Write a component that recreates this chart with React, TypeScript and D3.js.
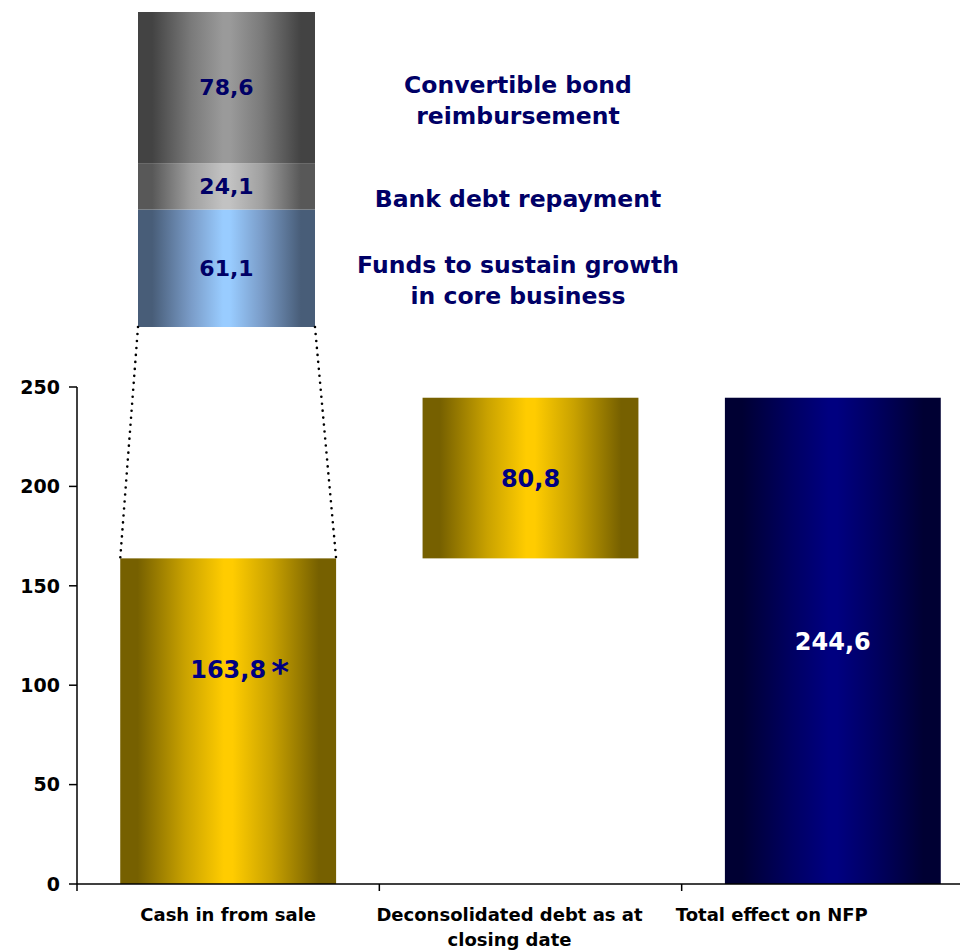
import React from "react";
import * as d3 from "d3";

// ---- data ----
const categories = ["Cash in from sale", "Deconsolidated debt as at closing date", "Total effect on NFP"];
const categoryLines = [["Cash in from sale"], ["Deconsolidated debt as at", "closing date"], ["Total effect on NFP"]];
const cashIn = 163.8;
const deconsolidatedDebt = 80.8;
const totalEffect = 244.6;
const yTicks = [0, 50, 100, 150, 200, 250];

// breakdown of cash in (bottom to top)
const useValues = [61.1, 24.1, 78.6];
const useLabels = [
  ["Funds to sustain growth", "in core business"],
  ["Bank debt repayment"],
  ["Convertible bond", "reimbursement"],
];

const fmt = (v: number) => v.toFixed(1).replace(".", ",");

const W = 960;
const H = 951;

export default function App() {
  const x = d3.scaleBand<string>().domain(categories).range([77, 984]).padding(0);
  const y = d3.scaleLinear().domain([0, 250]).range([884, 387]);
  const barW = x.bandwidth() * 0.714;

  const bars = [
    { cat: categories[0], y0: 0, y1: cashIn, value: cashIn, fill: "url(#gold)", color: "#000080" },
    { cat: categories[1], y0: cashIn, y1: cashIn + deconsolidatedDebt, value: deconsolidatedDebt, fill: "url(#gold)", color: "#000080" },
    { cat: categories[2], y0: 0, y1: totalEffect, value: totalEffect, fill: "url(#navy)", color: "#ffffff" },
  ];

  // stacked breakdown above first bar
  const stackTotal = d3.sum(useValues);
  const ys = d3.scaleLinear().domain([0, stackTotal]).range([327, 12]);
  const stackX0 = 138;
  const stackX1 = 315;
  const cum = d3.cumsum(useValues);
  const segs = useValues.map((v, i) => ({ v, s0: i === 0 ? 0 : cum[i - 1], s1: cum[i], label: useLabels[i] }));
  const segFills = ["url(#blue)", "url(#grey2)", "url(#grey1)"];

  const b1x0 = (x(categories[0]) as number) + (x.bandwidth() - barW) / 2;
  const b1x1 = b1x0 + barW;

  const labelShift = [0, -21, -61];
  const font = "'DejaVu Sans', Verdana, sans-serif";

  const grad = (id: string, edge: string, mid: string, center: string) => (
    <linearGradient id={id} x1="0" x2="1" y1="0" y2="0">
      <stop offset="0" stopColor={edge} />
      <stop offset="0.08" stopColor={edge} />
      <stop offset="0.3" stopColor={mid} />
      <stop offset="0.48" stopColor={center} />
      <stop offset="0.52" stopColor={center} />
      <stop offset="0.7" stopColor={mid} />
      <stop offset="0.92" stopColor={edge} />
      <stop offset="1" stopColor={edge} />
    </linearGradient>
  );

  return (
    <svg width={W} height={H} style={{ position: "absolute", left: 0, top: 0, background: "#fff" }} fontFamily={font}>
      <defs>
        {grad("gold", "#766000", "#c9a200", "#ffcc00")}
        {grad("navy", "#000033", "#000060", "#000080")}
        {grad("grey1", "#434343", "#7a7a7a", "#9a9a9a")}
        {grad("grey2", "#585858", "#a0a0a0", "#c2c2c2")}
        {grad("blue", "#485d78", "#7a9cc8", "#99ccff")}
      </defs>

      {/* bars */}
      {bars.map((b, i) => {
        const bx = (x(b.cat) as number) + (x.bandwidth() - barW) / 2;
        return <rect key={i} x={bx} y={y(b.y1)} width={barW} height={y(b.y0) - y(b.y1)} fill={b.fill} />;
      })}

      {/* axes */}
      <line x1={77} x2={77} y1={y(250)} y2={y(0)} stroke="#000" strokeWidth={1.5} />
      {yTicks.map((t) => (
        <g key={t}>
          <line x1={69} x2={77} y1={y(t)} y2={y(t)} stroke="#000" strokeWidth={1.5} />
          <text x={60} y={y(t)} dy="0.36em" textAnchor="end" fontSize={19} fontWeight="bold" fill="#000">
            {t}
          </text>
        </g>
      ))}
      <line x1={77} x2={W} y1={y(0)} y2={y(0)} stroke="#000" strokeWidth={1.5} />
      {categories.map((c) => (
        <line key={c} x1={x(c) as number} x2={x(c) as number} y1={y(0)} y2={y(0) + 7} stroke="#000" strokeWidth={1.5} />
      ))}
      {categories.map((c, i) => (
        <text key={c} x={(x(c) as number) + x.bandwidth() / 2 + labelShift[i]} y={921} textAnchor="middle" fontSize={18} fontWeight="bold" fill="#000">
          {categoryLines[i].map((ln, j) => (
            <tspan key={j} x={(x(c) as number) + x.bandwidth() / 2 + labelShift[i]} dy={j === 0 ? 0 : 25}>
              {ln}
            </tspan>
          ))}
        </text>
      ))}

      {/* bar value labels */}
      {bars.map((b, i) => {
        const cx = (x(b.cat) as number) + x.bandwidth() / 2;
        const cy = i === 0 ? y(b.y1) + 111 : (y(b.y0) + y(b.y1)) / 2;
        return (
          <text key={i} x={cx} y={cy} dy="0.36em" textAnchor="middle" fontSize={24} fontWeight="bold" fill={b.color}>
            {fmt(b.value)}
          </text>
        );
      })}
      <text x={(x(categories[0]) as number) + x.bandwidth() / 2 + 52} y={y(cashIn) + 126} textAnchor="middle" fontSize={34} fontWeight="bold" fontStyle="italic" fill="#000080">
        *
      </text>

      {/* stacked breakdown */}
      {segs.map((s, i) => (
        <g key={i}>
          <rect x={stackX0} y={ys(s.s1)} width={stackX1 - stackX0} height={ys(s.s0) - ys(s.s1)} fill={segFills[i]} />
          <text x={(stackX0 + stackX1) / 2} y={(ys(s.s0) + ys(s.s1)) / 2} dy="0.36em" textAnchor="middle" fontSize={22} fontWeight="bold" fill="#000066">
            {fmt(s.v)}
          </text>
          {s.label.map((ln, j) => (
            <text
              key={j}
              x={518}
              y={(ys(s.s0) + ys(s.s1)) / 2 + 12 + (j - (s.label.length - 1) / 2) * 31}
              dy="0.36em"
              textAnchor="middle"
              fontSize={23.5}
              fontWeight="bold"
              fill="#000066"
            >
              {ln}
            </text>
          ))}
        </g>
      ))}

      {/* dotted connectors */}
      <line x1={stackX0} y1={ys(0)} x2={b1x0} y2={y(cashIn)} stroke="#000" strokeWidth={2.6} strokeDasharray="0 7" strokeLinecap="round" />
      <line x1={stackX1} y1={ys(0)} x2={b1x1} y2={y(cashIn)} stroke="#000" strokeWidth={2.6} strokeDasharray="0 7" strokeLinecap="round" />
    </svg>
  );
}
